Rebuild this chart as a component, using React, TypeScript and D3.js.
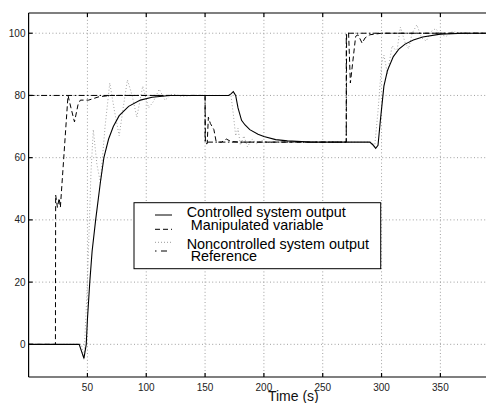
import React, { useRef, useEffect } from 'react';
import * as d3 from 'd3';

// [time (s), value] pairs
const reference: [number, number][] = [
    [0, 80], [150, 80], [150, 65], [270, 65], [270, 100], [400, 100],
];

const manipulated: [number, number][] = [
    [0, 0], [22.8, 0], [23, 48], [24.5, 44], [26, 47], [27, 44], [33.5, 80], [36, 76], [39, 71.5],
    [42, 77], [44, 78.5], [51, 78.5], [60, 79.6], [70, 80], [150, 80], [150.3, 64.5], [151.8, 64.5],
    [152.8, 73], [154.5, 71], [157.5, 69], [159.5, 65], [164, 65], [168, 66], [172, 65.2], [180, 65],
    [270, 65], [270.3, 100], [272, 100], [273.5, 84], [278, 99], [280, 99.5], [283.5, 96.8],
    [286, 98.5], [290, 99.5], [300, 100], [400, 100],
];

const controlled: [number, number][] = [
    [0, 0], [43, 0], [47, -4.5], [49, 0], [50, 8], [52, 20], [54, 30], [57, 40], [61, 52], [64, 60],
    [68, 66], [72, 70], [77, 73.5], [85, 76.5], [95, 78.5], [105, 79.4], [120, 80], [170, 80],
    [172, 80.5], [174, 81.2], [176, 80], [178, 76], [181, 72], [184, 70.5], [188, 69], [195, 67.5],
    [200, 66.8], [210, 65.8], [220, 65.4], [240, 65], [290, 65], [293, 64], [295, 63], [297, 64],
    [299, 72], [302, 83], [305, 88], [310, 92.5], [315, 95], [320, 96.5], [327, 97.8], [335, 98.8],
    [350, 99.7], [370, 100], [400, 100],
];

const noncontrolled: [number, number][] = [
    [0, 0], [45, 0], [47, -5], [50, 20], [53, 55], [55, 69], [58, 58], [61, 52], [65, 70], [69, 84],
    [73, 75], [77, 67], [80, 75], [84, 85], [88, 80], [92, 73], [97, 83], [102, 76], [106, 78],
    [111, 82], [116, 78.5], [122, 80.5], [130, 79.7], [140, 80], [172, 80], [174, 74], [176, 67],
    [178, 69.5], [180, 64], [183, 67], [186, 63.5], [190, 66], [194, 64.5], [198, 65.5], [205, 64.8],
    [215, 65.2], [230, 65], [292, 65], [294, 63], [297, 75], [300, 90], [302, 93], [305, 87],
    [309, 96], [313, 94], [316, 102], [320, 97], [323, 95], [326, 100], [330, 102.7], [334, 98.5],
    [338, 97.5], [342, 100.5], [346, 101.5], [350, 99.5], [355, 99], [360, 100.5], [365, 100.2],
    [372, 99.8], [380, 100], [400, 100],
];

const xTicks = [50, 100, 150, 200, 250, 300, 350];
const yTicks = [0, 20, 40, 60, 80, 100];

const legendLabels = [
    'Controlled system output',
    ' Manipulated variable',
    'Noncontrolled system output',
    ' Reference',
];

export default function App() {
    const svgRef = useRef<SVGSVGElement>(null);
    const width = 486;
    const height = 403;

    useEffect(() => {
        if (!svgRef.current) return;
        const svg = d3.select(svgRef.current);
        svg.selectAll('*').remove();

        const font = 'Helvetica, Arial, "Liberation Sans", sans-serif';
        const left = 28.6, top = 13, bottom = 377;
        const x = d3.scaleLinear().domain([0, 450]).range([left, left + 450 * 1.1765]);
        const y = d3.scaleLinear().domain([-10.5, 106.5]).range([bottom, top]);
        const right = x(450);

        svg.append('rect').attr('width', width).attr('height', height).attr('fill', '#fff');

        svg.append('defs').append('clipPath').attr('id', 'plot-clip')
            .append('rect').attr('x', left).attr('y', top)
            .attr('width', right - left).attr('height', bottom - top);

        // grid
        const grid = svg.append('g')
            .attr('stroke', '#888')
            .attr('stroke-width', 0.8)
            .attr('stroke-dasharray', '1,2.4');
        xTicks.forEach(t => {
            grid.append('line').attr('x1', x(t)).attr('x2', x(t)).attr('y1', top).attr('y2', bottom);
        });
        yTicks.forEach(t => {
            grid.append('line').attr('x1', left).attr('x2', right).attr('y1', y(t)).attr('y2', y(t));
        });

        // series
        const line = d3.line<[number, number]>().x(d => x(d[0])).y(d => y(d[1]));
        const series = svg.append('g').attr('clip-path', 'url(#plot-clip)').attr('fill', 'none');

        series.append('path').attr('d', line(noncontrolled))
            .attr('stroke', '#999').attr('stroke-width', 0.9).attr('stroke-dasharray', '1,2.2');
        series.append('path').attr('d', line(reference))
            .attr('stroke', '#000').attr('stroke-width', 1).attr('stroke-dasharray', '6,2.5,1.5,2.5');
        series.append('path').attr('d', line(manipulated))
            .attr('stroke', '#000').attr('stroke-width', 1).attr('stroke-dasharray', '5,3');
        series.append('path').attr('d', line(controlled))
            .attr('stroke', '#000').attr('stroke-width', 1.1);

        // axes box and ticks
        const axes = svg.append('g').attr('stroke', '#000').attr('stroke-width', 1.2);
        axes.append('line').attr('x1', left).attr('x2', right).attr('y1', top).attr('y2', top);
        axes.append('line').attr('x1', left).attr('x2', right).attr('y1', bottom).attr('y2', bottom);
        axes.append('line').attr('x1', left).attr('x2', left).attr('y1', top).attr('y2', bottom);
        xTicks.forEach(t => {
            axes.append('line').attr('x1', x(t)).attr('x2', x(t)).attr('y1', top).attr('y2', top + 4);
            axes.append('line').attr('x1', x(t)).attr('x2', x(t)).attr('y1', bottom).attr('y2', bottom - 4);
        });
        yTicks.forEach(t => {
            axes.append('line').attr('x1', left).attr('x2', left + 4).attr('y1', y(t)).attr('y2', y(t));
        });

        // tick labels
        svg.append('g').selectAll('text').data(xTicks).enter().append('text')
            .attr('x', d => x(d)).attr('y', 390.5)
            .attr('text-anchor', 'middle')
            .attr('font-family', font).attr('font-size', '10px').attr('fill', '#222')
            .text(d => d);
        svg.append('g').selectAll('text').data(yTicks).enter().append('text')
            .attr('x', 25.5).attr('y', d => y(d) + 3.6)
            .attr('text-anchor', 'end')
            .attr('font-family', font).attr('font-size', '10px').attr('fill', '#222')
            .text(d => d);

        svg.append('text')
            .attr('x', x(225)).attr('y', 401)
            .attr('text-anchor', 'middle')
            .attr('font-family', font).attr('font-size', '14px').attr('fill', '#111')
            .text('Time (s)');

        // legend
        const lg = svg.append('g');
        lg.append('rect')
            .attr('x', 134).attr('y', 202.7).attr('width', 246.7).attr('height', 66)
            .attr('fill', '#fff').attr('stroke', '#000').attr('stroke-width', 1);

        const baselines = [217.3, 230, 249.3, 260.7];
        const sampleY = [215, 229.3, 242.3, 251];
        const sampleX2 = [172, 172, 172, 167];
        const dashes = [null, '5,3', '1,2', '1.5,4.5,6,10'];
        const colors = ['#000', '#000', '#999', '#000'];
        legendLabels.forEach((label, i) => {
            lg.append('line')
                .attr('x1', 155).attr('x2', sampleX2[i]).attr('y1', sampleY[i]).attr('y2', sampleY[i])
                .attr('stroke', colors[i]).attr('stroke-width', 1)
                .attr('stroke-dasharray', dashes[i]);
            lg.append('text')
                .attr('x', 186.7).attr('y', baselines[i])
                .attr('font-family', font).attr('font-size', '14.4px').attr('fill', '#000')
                .attr('xml:space', 'preserve')
                .style('white-space', 'pre')
                .text(label);
        });
    }, []);

    return (
        <div style={{ position: 'fixed', left: 0, top: 0 }}>
            <svg ref={svgRef} width={width} height={height} style={{ display: 'block' }} />
        </div>
    );
}
